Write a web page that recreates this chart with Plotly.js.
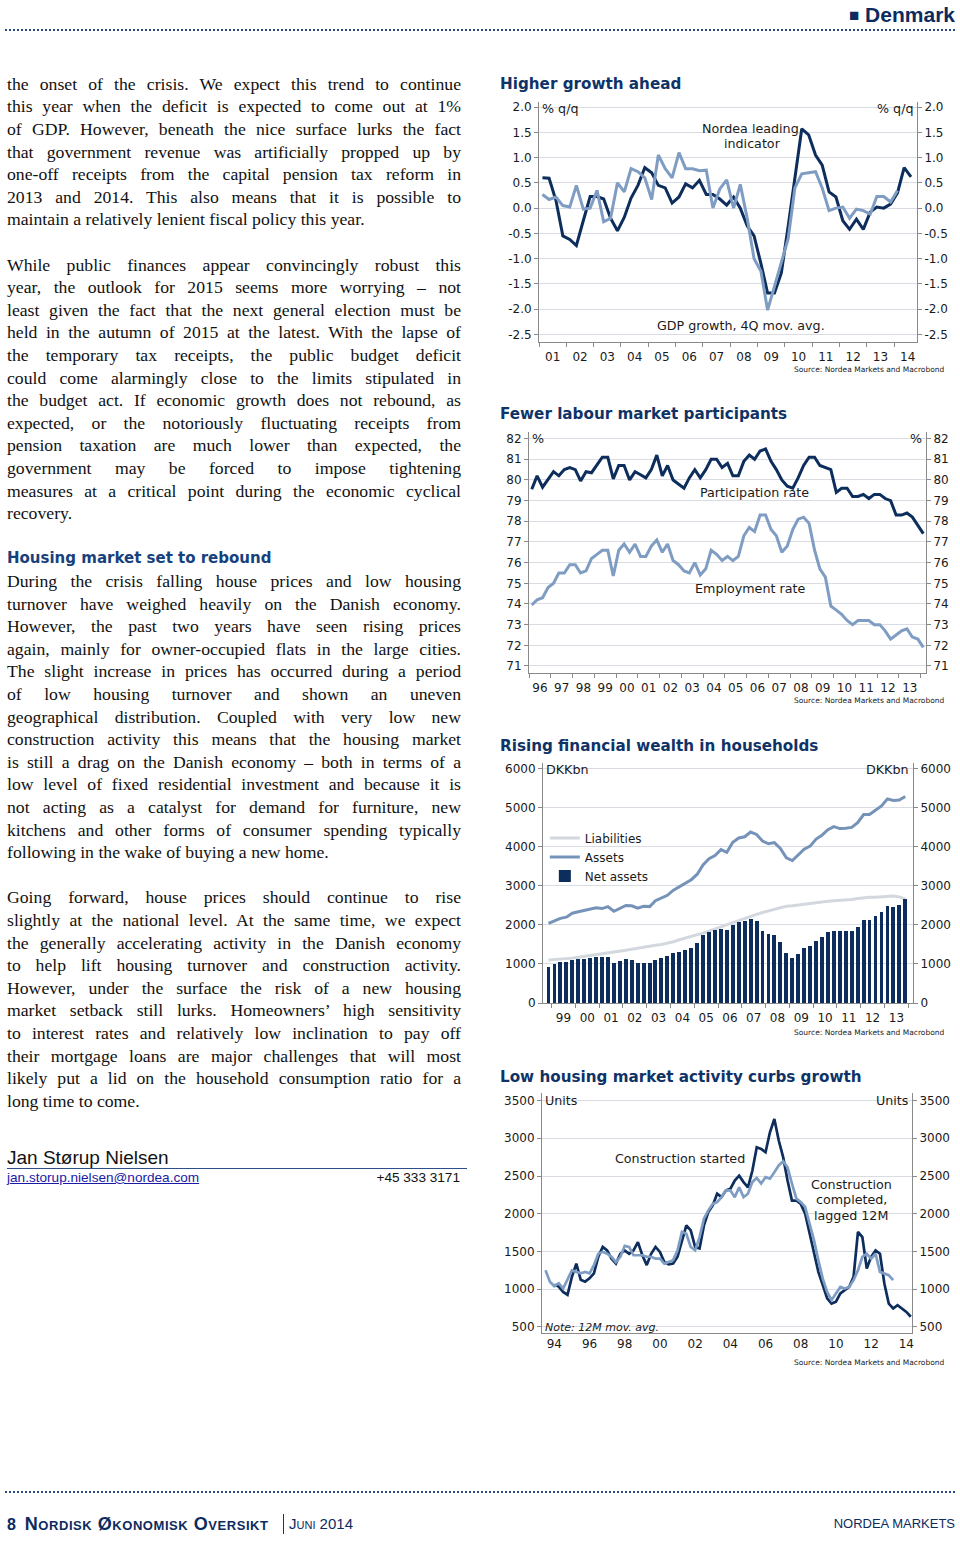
<!DOCTYPE html>
<html><head><meta charset="utf-8">
<script src="https://cdn.plot.ly/plotly-3.0.1.min.js"></script>
<style>
body{margin:0;background:#fff;width:960px;height:1541px;position:relative;overflow:hidden;font-family:'Liberation Serif','Times New Roman',serif;}
.abs{position:absolute;}
.line{position:absolute;left:7px;width:454px;height:22.6px;line-height:22.6px;font-size:17.7px;white-space:nowrap;text-align:justify;text-align-last:justify;color:#111;}
.line.last{text-align:left;text-align-last:left;}
.line.head{font-family:'DejaVu Sans',Verdana,sans-serif;font-weight:bold;font-size:15px;color:#17417c;text-align:left;text-align-last:left;}
.chart{position:absolute;}
.dots{position:absolute;left:5px;width:950px;height:0;border-top:2px dotted #2a4a7e;}
</style></head><body>

<div class="abs" style="right:5px;top:2px;height:26px;line-height:26px;font-family:'Liberation Sans',Arial,sans-serif;font-weight:bold;font-size:21px;color:#0d2b5e;"><span style="font-size:17px;vertical-align:1px;">■</span> Denmark</div>
<div class="dots" style="top:29px;"></div>

<div id="text"></div>

<div class="abs" style="left:7px;top:1146px;font-family:'Liberation Sans',Arial,sans-serif;font-size:19px;line-height:24px;color:#111;">Jan Størup Nielsen</div>
<div class="abs" style="left:7px;top:1168px;width:460px;height:1px;background:#2b4f86;"></div>
<div class="abs" style="left:7px;top:1170px;font-family:'Liberation Sans',Arial,sans-serif;font-size:13.6px;line-height:16px;color:#1a1aa6;text-decoration:underline;">jan.storup.nielsen@nordea.com</div>
<div class="abs" style="left:300px;width:160px;text-align:right;top:1170px;font-family:'Liberation Sans',Arial,sans-serif;font-size:13.6px;line-height:16px;color:#111;">+45 333 3171</div>

<div id="c1" class="chart" style="left:495px;top:70px;width:460px;height:310px;"></div>
<div id="c2" class="chart" style="left:495px;top:400px;width:460px;height:310px;"></div>
<div id="c3" class="chart" style="left:495px;top:735px;width:460px;height:305px;"></div>
<div id="c4" class="chart" style="left:495px;top:1065px;width:460px;height:305px;"></div>

<div class="dots" style="top:1491px;"></div>
<div class="abs" style="left:7px;top:1513px;height:22px;line-height:22px;font-family:'Liberation Sans',Arial,sans-serif;color:#0d2b5e;white-space:nowrap;">
<span style="font-weight:bold;font-size:16px;">8</span>&nbsp;&nbsp;<span style="font-weight:bold;font-size:18px;font-variant:small-caps;letter-spacing:0.55px;">Nordisk Økonomisk Oversikt</span></div>
<div class="abs" style="left:283px;top:1514px;width:1px;height:20px;background:#333;"></div>
<div class="abs" style="left:289px;top:1513px;height:22px;line-height:22px;font-family:'Liberation Sans',Arial,sans-serif;font-size:15px;font-variant:small-caps;color:#0d2b5e;">Juni 2014</div>
<div class="abs" style="right:5px;top:1513px;height:22px;line-height:22px;font-family:'Liberation Sans',Arial,sans-serif;font-size:13px;color:#0d2b5e;">NORDEA MARKETS</div>

<script>
// ---------------- Body text ----------------
const para1 = [
"the onset of the crisis. We expect this trend to continue",
"this year when the deficit is expected to come out at 1%",
"of GDP. However, beneath the nice surface lurks the fact",
"that government revenue was artificially propped up by",
"one-off receipts from the capital pension tax reform in",
"2013 and 2014. This also means that it is possible to",
"maintain a relatively lenient fiscal policy this year."];
const para2 = [
"While public finances appear convincingly robust this",
"year, the outlook for 2015 seems more worrying \u2013 not",
"least given the fact that the next general election must be",
"held in the autumn of 2015 at the latest. With the lapse of",
"the temporary tax receipts, the public budget deficit",
"could come alarmingly close to the limits stipulated in",
"the budget act. If economic growth does not rebound, as",
"expected, or the notoriously fluctuating receipts from",
"pension taxation are much lower than expected, the",
"government may be forced to impose tightening",
"measures at a critical point during the economic cyclical",
"recovery."];
const heading = "Housing market set to rebound";
const para3 = [
"During the crisis falling house prices and low housing",
"turnover have weighed heavily on the Danish economy.",
"However, the past two years have seen rising prices",
"again, mainly for owner-occupied flats in the large cities.",
"The slight increase in prices has occurred during a period",
"of low housing turnover and shown an uneven",
"geographical distribution. Coupled with very low new",
"construction activity this means that the housing market",
"is still a drag on the Danish economy \u2013 both in terms of a",
"low level of fixed residential investment and because it is",
"not acting as a catalyst for demand for furniture, new",
"kitchens and other forms of consumer spending typically",
"following in the wake of buying a new home."];
const para4 = [
"Going forward, house prices should continue to rise",
"slightly at the national level. At the same time, we expect",
"the generally accelerating activity in the Danish economy",
"to help lift housing turnover and construction activity.",
"However, under the surface the risk of a new housing",
"market setback still lurks. Homeowners\u2019 high sensitivity",
"to interest rates and relatively low inclination to pay off",
"their mortgage loans are major challenges that will most",
"likely put a lid on the household consumption ratio for a",
"long time to come."];

(function(){
  const host = document.getElementById('text');
  let idx = 0;
  function add(txt, cls){
    const d = document.createElement('div');
    d.className = 'line ' + (cls||'');
    d.style.top = (84 - 11.3 + idx*22.6) + 'px';
    d.textContent = txt;
    host.appendChild(d);
    idx++;
  }
  function para(lines){ lines.forEach((l,i)=>add(l, i===lines.length-1?'last':'')); }
  para(para1); idx++;
  para(para2); idx++;
  add(heading,'head');
  para(para3); idx++;
  para(para4);
  host.querySelectorAll('.line').forEach(el=>{
    const over = el.scrollWidth - 454;
    if(over>0){ const sp=(el.textContent.match(/ /g)||[]).length||1; el.style.wordSpacing=(-over/sp-0.2)+'px'; }
  });
})();

// ---------------- Chart data ----------------
// Chart 1: quarterly from 2001 Q1
const leadingIndicator = [0.60,0.59,0.15,-0.55,-0.62,-0.74,-0.25,0.23,0.23,0.18,
 -0.2,-0.45,-0.18,0.2,0.45,0.8,0.7,0.45,0.4,0.1,
 0.22,0.48,0.4,0.55,0.27,0.27,0.18,0.06,0.22,0.0,
 -0.35,-0.55,-1.1,-1.68,-1.68,-1.28,-0.35,0.55,1.57,1.45,
 1.05,0.85,0.32,0.22,-0.25,-0.42,-0.22,-0.42,-0.08,0.02,
 0.0,0.08,0.3,0.8,0.62];
const gdpGrowth = [0.27,0.17,0.22,0.05,0.02,0.45,-0.02,0.0,0.35,-0.27,
 -0.2,0.5,0.32,0.78,0.72,0.6,0.17,1.05,0.78,0.6,
 1.1,0.78,0.78,0.74,0.75,0.0,0.38,0.56,0.0,0.47,
 -0.2,-1.0,-1.25,-2.02,-1.55,-1.1,-0.6,0.4,0.68,0.7,
 0.72,0.4,-0.05,0.0,0.02,-0.2,-0.02,-0.05,-0.12,0.23,
 0.23,0.12,0.35];
const c1TickVals = [-2.5,-2.0,-1.5,-1.0,-0.5,0.0,0.5,1.0,1.5,2.0];
const c1TickText = ['-2.5','-2.0','-1.5','-1.0','-0.5','0.0','0.5','1.0','1.5','2.0'];

// Chart 2: quarterly from 1996 Q1
const participationRate = [79.55,80.2,79.65,80.0,80.4,80.2,80.5,80.6,80.5,79.95,80.4,80.35,
 80.75,81.1,81.1,80.05,80.7,80.7,80.0,80.4,80.25,80.1,80.5,81.2,
 80.2,80.7,80.0,79.8,79.6,80.1,80.5,80.1,80.5,81.0,81.0,80.6,
 80.8,80.2,80.2,80.9,81.2,81.0,81.4,81.5,80.9,80.5,80.0,79.7,
 79.6,80.1,80.7,81.1,81.1,80.7,80.6,80.5,79.4,79.6,79.6,79.2,
 79.2,79.3,79.1,79.3,79.3,79.1,79.0,78.3,78.3,78.4,78.2,77.8,77.4];
const employmentRate = [73.95,74.2,74.3,74.8,75.0,75.5,75.5,75.9,75.9,75.5,75.6,76.2,
 76.4,76.6,76.6,75.35,76.6,76.9,76.5,76.9,76.3,76.3,76.8,77.1,
 76.5,76.9,76.1,75.9,75.6,75.5,76.0,75.4,75.7,76.6,76.4,76.1,
 76.3,76.1,76.3,77.3,77.7,77.5,78.3,78.3,77.6,77.3,76.5,76.8,
 77.6,78.1,78.2,77.9,76.6,75.7,75.3,73.9,73.7,73.5,73.2,73.0,
 73.2,73.2,73.2,73.0,73.0,72.7,72.3,72.5,72.7,72.8,72.4,72.3,71.9];
const c2TickVals = [71,72,73,74,75,76,77,78,79,80,81,82];

// Chart 3: quarterly from 1998 Q4, DKKbn
const netAssets = [930,
 990,1040,1060,1100, 1120,1130,1160,1190, 1170,1180,1030,1080, 1140,1090,1020,1020,
 1020,1110,1150,1200, 1280,1300,1360,1420, 1540,1730,1810,1870, 1900,1860,2000,2070,
 2100,2140,2110,1850, 1760,1750,1570,1280, 1160,1250,1410,1460, 1590,1680,1810,1850,
 1840,1840,1840,1940, 2130,2120,2230,2320, 2480,2450,2500,2660];
const assets = [2040,
 2110,2170,2200,2300, 2340,2370,2420,2440, 2420,2470,2350,2420, 2500,2490,2430,2480,
 2470,2620,2680,2760, 2890,2980,3060,3160, 3300,3540,3700,3780, 3930,3860,4120,4230,
 4260,4380,4320,4150, 4080,4110,3960,3720, 3650,3800,3940,4020, 4200,4300,4440,4520,
 4470,4480,4500,4620, 4830,4830,4930,5050, 5230,5190,5200,5290];
const liabilities = [1100,
 1110,1120,1130,1150, 1170,1190,1210,1230, 1250,1280,1300,1330, 1350,1380,1410,1430,
 1460,1480,1500,1530, 1570,1620,1660,1700, 1740,1790,1840,1900, 1960,2010,2060,2110,
 2170,2220,2270,2320, 2370,2400,2440,2480, 2490,2510,2520,2550, 2580,2600,2610,2620,
 2630,2640,2650,2680, 2700,2710,2710,2720, 2740,2740,2720,2660];
const c3TickVals = [0,1000,2000,3000,4000,5000,6000];

// Chart 4: 12M moving averages, sampled quarterly
const constructionStarted = [1060,1035,965,925, 1165,1340,1125,1100, 1145,1210,1430,1560,
 1515,1405,1340,1470, 1515,1470,1515,1625, 1450,1320,1470,1560, 1495,1360,1330,1340,
 1430,1650,1845,1780, 1560,1540,1845,2025, 2110,2265,2220,2310, 2330,2440,2505,2420,
 2350,2570,2880,2860, 2815,3080,3255,2970, 2750,2440,2175,2175, 2130,2000,1735,1470,
 1230,1055,880,810, 835,945,990,1030, 1165,1760,1690,1275, 1430,1515,1470,1075,
 810,745,790,745, 700,635];
const constructionCompleted = [1250,1100,1040,1080, 1010,1120,1250,1230, 1210,1230,1210,1320,
 1470,1495,1470,1430, 1360,1430,1575,1560, 1450,1450,1450,1430, 1430,1405,1405,1340,
 1360,1385,1515,1760, 1735,1560,1515,1690, 1935,2045,2130,2155, 2220,2310,2310,2220,
 2350,2220,2265,2420, 2475,2400,2485,2465, 2550,2640,2695,2615, 2400,2200,2155,2090,
 1870,1650,1385,1140, 965,855,945,1030, 1010,1030,1120,1250, 1430,1470,1405,1470,
 1230,1210,1185,1120];
const c4TickVals = [500,1000,1500,2000,2500,3000,3500];
const c4XTickVals = [1994,1996,1998,2000,2002,2004,2006,2008,2010,2012,2014];
const c4XTickText = ['94','96','98','00','02','04','06','08','10','12','14'];

// ---------------- helpers ----------------
function quarterDates(year, q, n){
  const out=[];
  for(let i=0;i<n;i++){
    const k=(q-1)+i, yy=year+Math.floor(k/4), m=(k%4)*3+2;
    out.push(yy+'-'+String(m).padStart(2,'0')+'-15');
  }
  return out;
}
function quarterYears(start, n){ const o=[]; for(let i=0;i<n;i++) o.push(start+0.25*i); return o; }

const FONT='DejaVu Sans, Verdana, sans-serif';
const NAVY='#0f3366';
const GRID='#d9dde3';
const AXIS='#8a8a8a';
const TXT='#1a1a1a';
const DARK='#0d2d5c';
const LIGHT='#7f9dc3';
const TICK=12;
const LAB=12.7;
const cfg={staticPlot:true,displayModeBar:false,responsive:false};

function yAx(range, vals, text, side){
  const a={range:range, tickvals:vals, ticktext:text||vals.map(String), ticks:'outside', ticklen:4, tickcolor:AXIS,
    showline:true, linecolor:AXIS, linewidth:1, zeroline:false, showgrid:side!=='right', gridcolor:GRID, gridwidth:1,
    tickfont:{family:FONT,size:TICK,color:TXT}, fixedrange:true};
  if(side==='right'){a.overlaying='y'; a.side='right';}
  return a;
}
function dateX(range){
  return {type:'date', range:range, dtick:'M12', tickformat:'%y', ticklabelmode:'period', ticks:'outside', ticklen:4,
    tickcolor:AXIS, showline:true, linecolor:AXIS, linewidth:1, showgrid:false, zeroline:false,
    tickfont:{family:FONT,size:TICK,color:TXT}};
}
function title(text, h, yc){
  return {text:'<b>'+text+'</b>', font:{family:FONT,size:15.2,color:NAVY}, xref:'container', x:5/460, xanchor:'left',
    yref:'container', y:1-yc/h, yanchor:'middle'};
}
function ann(text, x, y, xa, extra){
  return Object.assign({text:text, xref:'paper', yref:'paper', x:x, y:y, xanchor:xa||'center', yanchor:'middle', showarrow:false,
    font:{family:FONT,size:LAB,color:TXT}}, extra||{});
}
function source(x,y){ return ann('Source: Nordea Markets and Macrobond', x, y, 'right', {font:{family:FONT,size:7.5,color:TXT}}); }

// ---------------- Chart 1 ----------------
(function(){
  const r=[-2.65,2.1];
  Plotly.newPlot('c1',[
    {x:quarterDates(2001,1,gdpGrowth.length), y:gdpGrowth, type:'scatter', mode:'lines', line:{color:LIGHT,width:3}, yaxis:'y2', name:'GDP growth, 4Q mov. avg.'},
    {x:quarterDates(2001,1,leadingIndicator.length), y:leadingIndicator, type:'scatter', mode:'lines', line:{color:DARK,width:3}, name:'Nordea leading indicator'}
  ],{
    width:460,height:310, margin:{l:43.7,r:38.3,t:31.7,b:38.3,pad:0}, showlegend:false,
    paper_bgcolor:'#fff', plot_bgcolor:'#fff', font:{family:FONT,size:TICK,color:TXT},
    title:title('Higher growth ahead',310,14),
    xaxis:dateX(['2000-12-31','2014-11-03']),
    yaxis:yAx(r,c1TickVals,c1TickText),
    yaxis2:yAx(r,c1TickVals,c1TickText,'right'),
    annotations:[
      ann('% q/q',0,0.974,'left',{xshift:1}),
      ann('% q/q',1,0.974,'right',{xshift:-2}),
      ann('Nordea leading',0.559,0.890),
      ann('indicator',0.564,0.828),
      ann('GDP growth, 4Q mov. avg.',0.535,0.07),
      source(1.080,-0.114)
    ]
  },cfg);
})();

// ---------------- Chart 2 ----------------
(function(){
  const r=[70.66,82.32];
  Plotly.newPlot('c2',[
    {x:quarterDates(1996,1,employmentRate.length), y:employmentRate, type:'scatter', mode:'lines', line:{color:LIGHT,width:3}, yaxis:'y2', name:'Employment rate'},
    {x:quarterDates(1996,1,participationRate.length), y:participationRate, type:'scatter', mode:'lines', line:{color:DARK,width:3}, name:'Participation rate'}
  ],{
    width:460,height:310, margin:{l:34,r:29,t:31.7,b:37.3,pad:0}, showlegend:false,
    paper_bgcolor:'#fff', plot_bgcolor:'#fff', font:{family:FONT,size:TICK,color:TXT},
    title:title('Fewer labour market participants',310,14),
    xaxis:dateX(['1995-12-31','2014-04-01']),
    yaxis:yAx(r,c2TickVals),
    yaxis2:yAx(r,c2TickVals,null,'right'),
    annotations:[
      ann('%',0,0.974,'left',{xshift:1}),
      ann('%',1,0.974,'right',{xshift:-2}),
      ann('Participation rate',0.567,0.75),
      ann('Employment rate',0.557,0.351),
      source(1.053,-0.113)
    ]
  },cfg);
})();

// ---------------- Chart 3 ----------------
(function(){
  const r=[0,6150];
  const d=quarterDates(1998,4,netAssets.length);
  Plotly.newPlot('c3',[
    {x:d, y:netAssets, type:'bar', marker:{color:DARK,line:{width:0}}, width:60*86400000, name:'Net assets', legendrank:3, yaxis:'y2'},
    {x:d, y:liabilities, type:'scatter', mode:'lines', line:{color:'#d3d8df',width:3}, name:'Liabilities', legendrank:1},
    {x:d, y:assets, type:'scatter', mode:'lines', line:{color:'#7592b9',width:3}, name:'Assets', legendrank:2}
  ],{
    width:460,height:305, margin:{l:47.7,r:41.7,t:28.3,b:37.3,pad:0}, showlegend:true,
    legend:{x:0.005,xanchor:'left',y:0.748,yanchor:'top',bgcolor:'rgba(0,0,0,0)',font:{family:FONT,size:12,color:TXT},itemwidth:30,tracegroupgap:0},
    paper_bgcolor:'#fff', plot_bgcolor:'#fff', font:{family:FONT,size:TICK,color:TXT}, bargap:0,
    title:title('Rising financial wealth in households',305,11),
    xaxis:dateX(['1998-08-22','2014-03-14']),
    yaxis:yAx(r,c3TickVals),
    yaxis2:yAx(r,c3TickVals,null,'right'),
    annotations:[
      ann('DKKbn',0,0.972,'left',{xshift:1}),
      ann('DKKbn',1,0.972,'right',{xshift:-2}),
      source(1.091,-0.122)
    ]
  },cfg);
})();

// ---------------- Chart 4 ----------------
(function(){
  const r=[420,3600];
  Plotly.newPlot('c4',[
    {x:quarterYears(1994.0,constructionStarted.length), y:constructionStarted, type:'scatter', mode:'lines', line:{color:DARK,width:2.7}, name:'Construction started'},
    {x:quarterYears(1993.5,constructionCompleted.length), y:constructionCompleted, type:'scatter', mode:'lines', line:{color:LIGHT,width:2.7}, yaxis:'y2', name:'Construction completed, lagged 12M'}
  ],{
    width:460,height:305, margin:{l:47,r:43.3,t:28.3,b:36.7,pad:0}, showlegend:false,
    paper_bgcolor:'#fff', plot_bgcolor:'#fff', font:{family:FONT,size:TICK,color:TXT},
    title:title('Low housing market activity curbs growth',305,12),
    xaxis:{range:[1993.3,2014.32], tickvals:c4XTickVals, ticktext:c4XTickText, ticks:'', showline:true, linecolor:AXIS, linewidth:1,
      showgrid:false, zeroline:false, tickfont:{family:FONT,size:TICK,color:TXT}},
    yaxis:yAx(r,c4TickVals),
    yaxis2:yAx(r,c4TickVals,null,'right'),
    annotations:[
      ann('Units',0,0.968,'left',{xshift:1}),
      ann('Units',1,0.968,'right',{xshift:-2}),
      ann('Construction started',0.373,0.726),
      ann('Construction',0.836,0.618),
      ann('completed,',0.836,0.555),
      ann('lagged 12M',0.836,0.489),
      ann('<i>Note: 12M mov. avg.</i>',0.003,0.022,'left',{font:{family:FONT,size:11,color:TXT}}),
      source(1.0955,-0.124)
    ]
  },cfg);
})();
</script>
</body></html>
